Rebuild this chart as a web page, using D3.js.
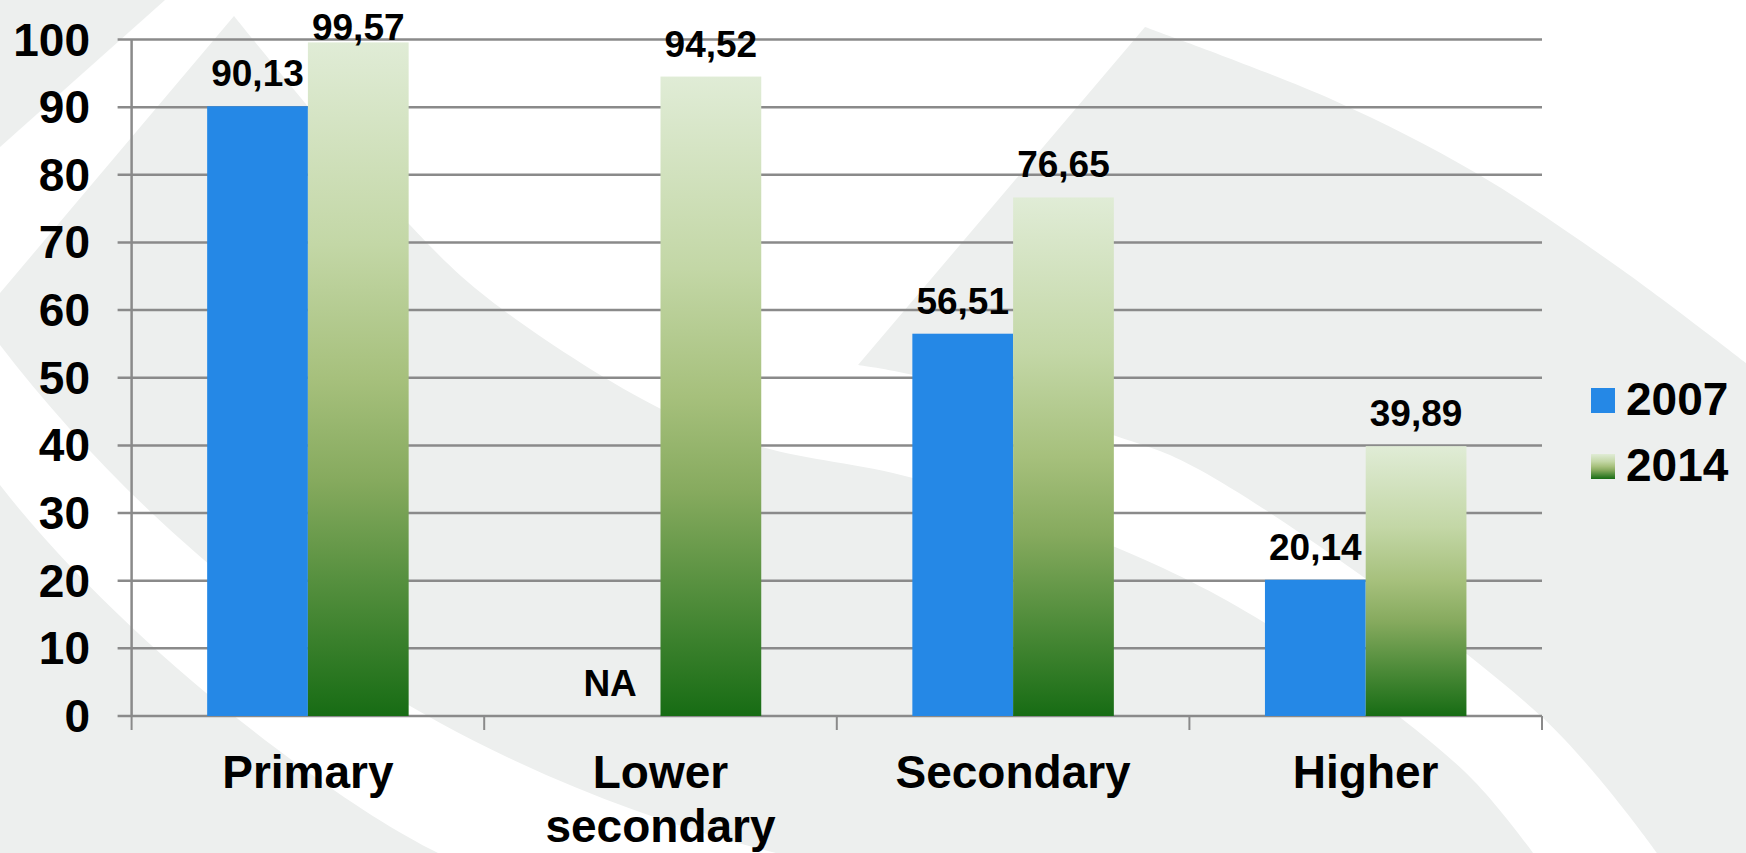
<!DOCTYPE html>
<html>
<head>
<meta charset="utf-8">
<script src="https://cdn.jsdelivr.net/npm/d3@7"></script>
<style>
	body { margin: 0; background: #ffffff; }
	svg { display: block; }
	text { font-family: "Liberation Sans", Arial, sans-serif; font-weight: bold; fill: #000; }
</style>
</head>
<body>
<div class="container"></div>
<script>

var categories = ["Primary", "Lower secondary", "Secondary", "Higher"];
var years = ["2007", "2014"];
var values2007 = [90.13, null, 56.51, 20.14];   // null = NA
var values2014 = [99.57, 94.52, 76.65, 39.89];
var yTicks = [0, 10, 20, 30, 40, 50, 60, 70, 80, 90, 100];

var W = 1746, H = 853;
var plot = {left: 131.6, right: 1542, top: 39.5, bottom: 716};

var commaFmt = d3.formatLocale({decimal: ",", thousands: ".", grouping: [3], currency: ["", ""]}).format(".2f");

function makeStage(w, h) {
	var stage = d3.select(".container")
				  .append("svg")
				  .attr("width", w)
				  .attr("height", h);
	return stage;
}

// slide template swooshes (decoration only)
function drawBackground(stage) {
	var gray = "#edefee";
	var curve = d3.line().curve(d3.curveCatmullRom);
	var bg = stage.append("g");

	bg.append("rect").attr("width", W).attr("height", H).style("fill", "#ffffff");
	bg.append("path").attr("d", "M0,0 L165,0 L0,147 Z").style("fill", gray);

	var sEdge = [[1533,853],[1464,771],[1265,623],[1115,547],[913,478],[762,447],[659,408],[490,300],[410,225],[234,16]];
	bg.append("path")
	  .attr("d", "M234,16 L0,293 L0,853 L1533,853 " + curve(sEdge).replace(/^M[^C]*/, "") + " Z")
	  .style("fill", gray);

	var upper = [[1145,27],[1333,100],[1476,173],[1618,267],[1746,363]];
	var lower = [[1657,853],[1542,717],[1200,470],[1113,435],[913,375],[858,365]];
	bg.append("path")
	  .attr("d", "M858,365 L1145,27 " + curve(upper).replace(/^M[^C]*/, "") +
				 " L1746,853 L1657,853 " + curve(lower).replace(/^M[^C]*/, "") + " Z")
	  .style("fill", gray);

	bg.append("path")
	  .attr("d", "M0,345 C150,540 400,760 776,853 L438,853 C330,800 120,640 0,485 Z")
	  .style("fill", "#ffffff");
}

function drawChart(stage) {
	var x = d3.scaleBand()
			  .domain(categories)
			  .range([plot.left, plot.right])
			  .padding(0);
	var y = d3.scaleLinear()
			  .domain([0, 100])
			  .range([plot.bottom, plot.top]);

	var bw = x.bandwidth();
	var barW = bw / 3.5;
	var offset = bw * 0.75 / 3.5;

	var defs = stage.append("defs");
	var grad = defs.append("linearGradient")
				   .attr("id", "green")
				   .attr("x1", 0).attr("y1", 0)
				   .attr("x2", 0).attr("y2", 1);
	[["0%", "#e0ecd6"], ["30%", "#c3d7a6"], ["50%", "#a6c07c"], ["65%", "#86aa5e"], ["82%", "#4f8c3a"], ["100%", "#176c14"]]
		.forEach(function (s) {
			grad.append("stop").attr("offset", s[0]).attr("stop-color", s[1]);
		});

	// gridlines (extended to the left as tick marks)
	stage.append("g")
		 .selectAll("line")
		 .data(yTicks)
		 .enter()
		 .append("line")
		 .attr("x1", plot.left - 14)
		 .attr("x2", plot.right)
		 .attr("y1", function (d) { return y(d); })
		 .attr("y2", function (d) { return y(d); })
		 .style("stroke", "#8a8a8a")
		 .style("stroke-width", "2.5px");

	// y axis line
	stage.append("line")
		 .attr("x1", plot.left).attr("x2", plot.left)
		 .attr("y1", plot.top).attr("y2", plot.bottom)
		 .style("stroke", "#8a8a8a")
		 .style("stroke-width", "2.5px");

	// x category ticks
	var bounds = categories.map(function (c) { return x(c); }).concat([plot.right]);
	stage.append("g")
		 .selectAll("line")
		 .data(bounds)
		 .enter()
		 .append("line")
		 .attr("x1", function (d) { return d; })
		 .attr("x2", function (d) { return d; })
		 .attr("y1", plot.bottom)
		 .attr("y2", plot.bottom + 14)
		 .style("stroke", "#8a8a8a")
		 .style("stroke-width", "2px");

	// y tick labels
	stage.append("g")
		 .selectAll("text")
		 .data(yTicks)
		 .enter()
		 .append("text")
		 .attr("x", 90)
		 .attr("y", function (d) { return y(d) + 16; })
		 .attr("text-anchor", "end")
		 .style("font-size", "46px")
		 .text(function (d) { return d; });

	// bars
	var rows = categories.map(function (c, i) {
		return {cat: c, a: values2007[i], b: values2014[i]};
	});

	stage.append("g")
		 .selectAll("rect")
		 .data(rows.filter(function (r) { return r.a != null; }))
		 .enter()
		 .append("rect")
		 .attr("x", function (r) { return x(r.cat) + offset; })
		 .attr("y", function (r) { return y(r.a); })
		 .attr("width", barW)
		 .attr("height", function (r) { return y(0) - y(r.a); })
		 .style("fill", "#2588e6");

	stage.append("g")
		 .selectAll("rect")
		 .data(rows)
		 .enter()
		 .append("rect")
		 .attr("x", function (r) { return x(r.cat) + offset + barW; })
		 .attr("y", function (r) { return y(r.b); })
		 .attr("width", barW)
		 .attr("height", function (r) { return y(0) - y(r.b); })
		 .style("fill", "url(#green)");

	// data labels
	function labelY(v) {
		return Math.max(y(v || 0) - 20, plot.top);
	}
	var labels = [];
	rows.forEach(function (r) {
		labels.push({x: x(r.cat) + offset + barW / 2, v: r.a});
		labels.push({x: x(r.cat) + offset + barW * 1.5, v: r.b});
	});
	stage.append("g")
		 .selectAll("text")
		 .data(labels)
		 .enter()
		 .append("text")
		 .attr("x", function (d) { return d.x; })
		 .attr("y", function (d) { return labelY(d.v); })
		 .attr("text-anchor", "middle")
		 .style("font-size", "37px")
		 .text(function (d) { return d.v == null ? "NA" : commaFmt(d.v); });

	// category labels
	var cats = stage.append("g")
					.selectAll("text")
					.data(categories)
					.enter()
					.append("text")
					.attr("x", function (c) { return x(c) + bw / 2; })
					.attr("y", 788)
					.attr("text-anchor", "middle")
					.style("font-size", "46px");
	cats.each(function (c) {
		var words = c === "Lower secondary" ? ["Lower", "secondary"] : [c];
		var t = d3.select(this);
		words.forEach(function (w, i) {
			t.append("tspan")
			 .attr("x", x(c) + bw / 2)
			 .attr("dy", i === 0 ? 0 : 54)
			 .text(w);
		});
	});
}

function drawLegend(stage) {
	var fills = ["#2588e6", "url(#green)"];
	var lg = stage.append("g")
				  .selectAll("g")
				  .data(years)
				  .enter()
				  .append("g")
				  .attr("transform", function (d, i) { return "translate(1591," + (388 + i * 66) + ")"; });
	lg.append("rect")
	  .attr("width", 24)
	  .attr("height", 25)
	  .style("fill", function (d, i) { return fills[i]; });
	lg.append("text")
	  .attr("x", 35)
	  .attr("y", 27)
	  .style("font-size", "46px")
	  .text(function (d) { return d; });
}

var stage = makeStage(W, H);
drawBackground(stage);
drawChart(stage);
drawLegend(stage);

</script>
</body>
</html>
